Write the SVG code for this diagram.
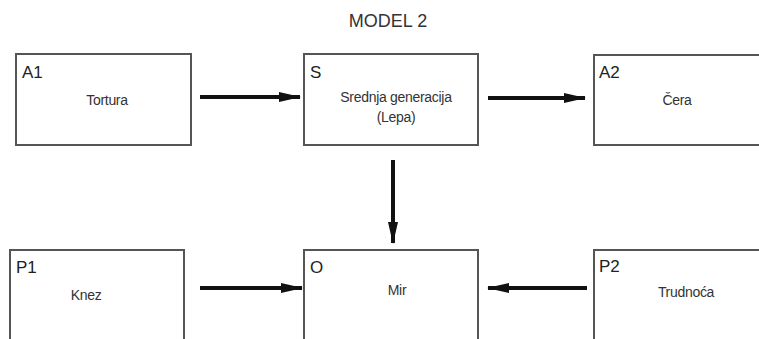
<svg xmlns="http://www.w3.org/2000/svg" width="759" height="339" viewBox="0 0 759 339">
  <style>
    .box { fill: #ffffff; stroke: #555555; stroke-width: 2; }
    .tag { font-family: "Liberation Sans", Arial, sans-serif; font-size: 17px; fill: #222222; }
    .lbl { font-family: "Liberation Sans", Arial, sans-serif; font-size: 14px; fill: #333333; text-anchor: middle; letter-spacing: -0.3px; }
    .title { font-family: "Liberation Sans", Arial, sans-serif; font-size: 18px; fill: #333333; text-anchor: middle; }
    .conn { stroke: #111111; stroke-width: 4; fill: none; marker-end: url(#head); }
  </style>
  <defs>
    <marker id="head" markerUnits="userSpaceOnUse" markerWidth="22" markerHeight="12" refX="21" refY="6" orient="auto">
      <path d="M0,1 L22,6 L0,11 Z" fill="#111111"/>
    </marker>
  </defs>
  <rect width="759" height="339" fill="#ffffff"/>

  <text class="title" x="388" y="27">MODEL 2</text>

  <g id="A1">
    <rect class="box" x="16" y="54" width="175" height="91"/>
    <text class="tag" x="22" y="78">A1</text>
    <text class="lbl" x="107" y="105">Tortura</text>
  </g>
  <g id="S">
    <rect class="box" x="304" y="54" width="174" height="91"/>
    <text class="tag" x="310" y="78">S</text>
    <text class="lbl" x="396" y="102">Srednja generacija</text>
    <text class="lbl" x="396" y="122">(Lepa)</text>
  </g>
  <g id="A2">
    <rect class="box" x="594" y="55" width="175" height="90"/>
    <text class="tag" x="599" y="78">A2</text>
    <text class="lbl" x="677" y="105">Čera</text>
  </g>
  <g id="P1">
    <rect class="box" x="10" y="250" width="174" height="100"/>
    <text class="tag" x="16" y="273">P1</text>
    <text class="lbl" x="86" y="300">Knez</text>
  </g>
  <g id="O">
    <rect class="box" x="304" y="250" width="174" height="100"/>
    <text class="tag" x="310" y="273">O</text>
    <text class="lbl" x="397" y="295">Mir</text>
  </g>
  <g id="P2">
    <rect class="box" x="594" y="250" width="175" height="100"/>
    <text class="tag" x="599" y="272">P2</text>
    <text class="lbl" x="686" y="297">Trudnoća</text>
  </g>

  <g id="connectors">
    <line class="conn" x1="200" y1="97" x2="300" y2="97"/>
    <line class="conn" x1="488" y1="98" x2="585" y2="98"/>
    <line class="conn" x1="393" y1="160" x2="393" y2="243"/>
    <line class="conn" x1="200" y1="288" x2="302" y2="288"/>
    <line class="conn" x1="587" y1="288" x2="488" y2="288"/>
  </g>
</svg>
